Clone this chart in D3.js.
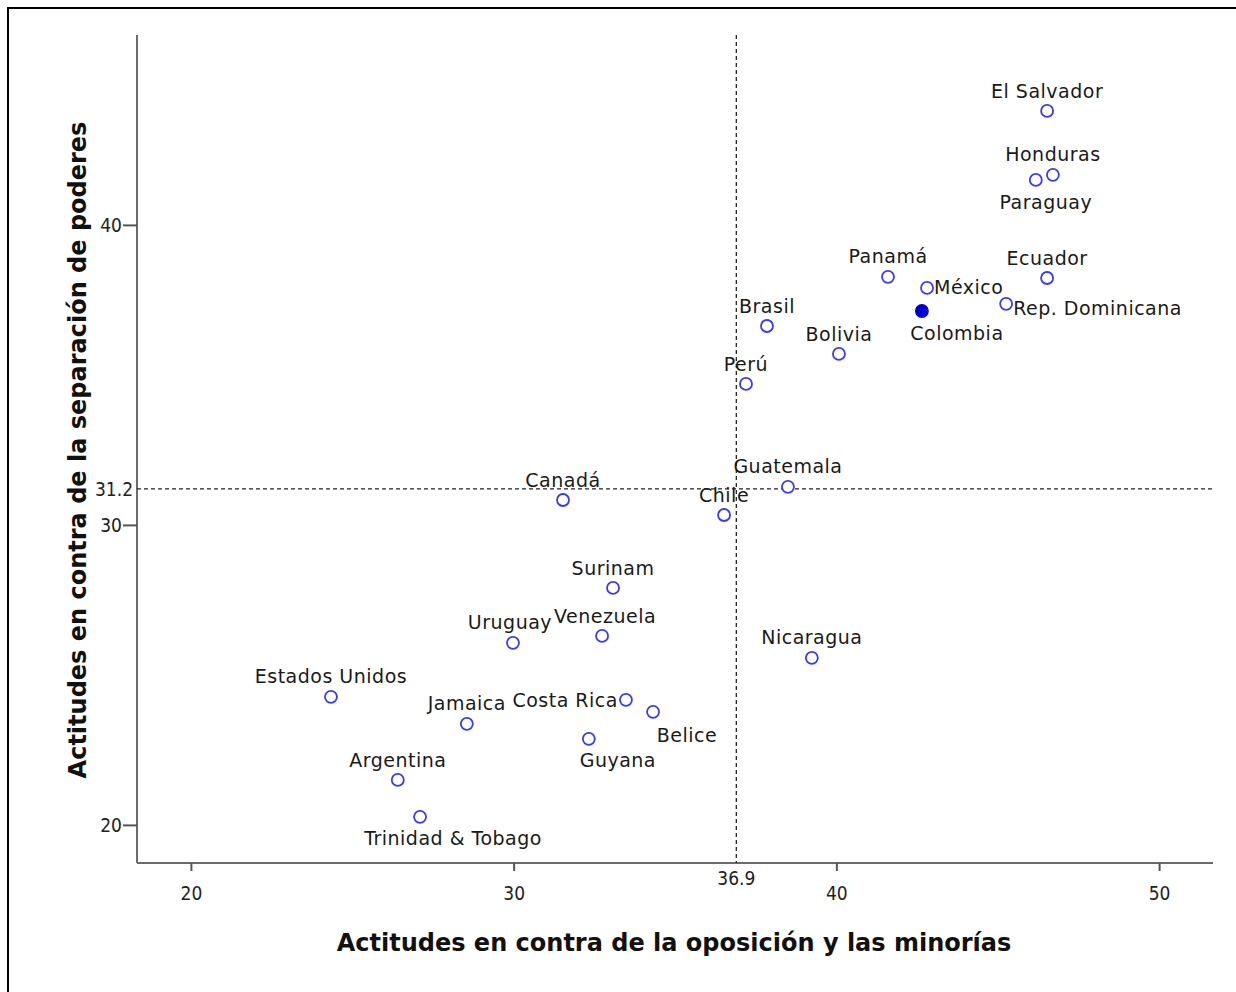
<!DOCTYPE html>
<html>
<head>
<meta charset="utf-8">
<script src="https://cdn.jsdelivr.net/npm/d3@7"></script>
<style>
  html, body { margin: 0; padding: 0; background: #fff; }
  svg { display: block; }
</style>
</head>
<body>
<svg id="chart" width="1236" height="992"></svg>
<script>
// ---- Data ----
const countries = ["El Salvador", "Honduras", "Paraguay", "Panamá", "Ecuador", "México", "Colombia",
  "Rep. Dominicana", "Brasil", "Bolivia", "Perú", "Guatemala", "Chile", "Canadá", "Surinam",
  "Venezuela", "Uruguay", "Nicaragua", "Estados Unidos", "Costa Rica", "Belice", "Jamaica",
  "Guyana", "Argentina", "Trinidad & Tobago"];
const oposicionMinorias = [46.53, 46.71, 46.18, 41.6, 46.53, 42.81, 42.65,
  45.26, 37.85, 40.08, 37.2, 38.5, 36.52, 31.53, 33.08,
  32.74, 29.98, 39.24, 24.34, 33.48, 34.32, 28.55,
  32.33, 26.41, 27.1];
const separacionPoderes = [43.8, 41.67, 41.5, 38.27, 38.23, 37.9, 37.13,
  37.37, 36.63, 35.7, 34.7, 31.27, 30.33, 30.83, 27.9,
  26.3, 26.07, 25.57, 24.27, 24.17, 23.77, 23.37,
  22.87, 21.5, 20.27];
const highlighted = ["Colombia"];
const xTicks = [20, 30, 40, 50];
const yTicks = [20, 30, 40];
const xMean = 36.9;
const yMean = 31.2;
const xTitle = "Actitudes en contra de la oposición y las minorías";
const yTitle = "Actitudes en contra de la separación de poderes";

// ---- Label layout (presentation only) ----
const labelLayout = {
  "Paraguay": {side: "below", dx: 10},
  "Colombia": {side: "below", dx: 35},
  "México": {side: "right", dx: 0, dy: -1},
  "Rep. Dominicana": {side: "right", dx: 0, dy: 5},
  "Costa Rica": {side: "left", dx: 0, dy: 1},
  "Belice": {side: "below", dx: 34, dy: 2},
  "Guyana": {side: "below", dx: 29},
  "Trinidad & Tobago": {side: "below", dx: 33},
  "Venezuela": {side: "above", dx: 3},
  "Uruguay": {side: "above", dx: -3}
};

// ---- Layout ----
const svg = d3.select("#chart");
const pLeft = 137, pRight = 1213, pTop = 35, pBottom = 863;

const x = d3.scaleLinear().domain([18.33, 51.67]).range([pLeft, pRight]);
const y = d3.scaleLinear().domain([18.73, 46.33]).range([pBottom, pTop]);

// frame
svg.append("rect").attr("x", 8).attr("y", 8).attr("width", 1240).attr("height", 1000)
  .attr("fill", "none").attr("stroke", "#000").attr("stroke-width", 2);

const tickFont = "'DejaVu Sans Condensed', 'DejaVu Sans', sans-serif";
const labelFont = "'DejaVu Sans', sans-serif";
const tickSize = 19;

// axes
const xAxis = d3.axisBottom(x).tickValues(xTicks).tickSize(8).tickSizeOuter(0).tickFormat(d3.format("d"));
const yAxis = d3.axisLeft(y).tickValues(yTicks).tickSize(14).tickSizeOuter(0).tickFormat(d3.format("d"));

const gx = svg.append("g").attr("transform", `translate(0,${pBottom})`).call(xAxis);
const gy = svg.append("g").attr("transform", `translate(${pLeft},0)`).call(yAxis);

[gx, gy].forEach(g => {
  g.select(".domain").attr("stroke", "#6b6b6b").attr("stroke-width", 2);
  g.selectAll(".tick line").attr("stroke", "#555").attr("stroke-width", 2);
  g.selectAll(".tick text").attr("fill", "#222").attr("font-family", tickFont)
    .attr("font-size", tickSize).style("font-stretch", "condensed");
});
gx.select(".domain").attr("d", `M${pLeft},0H${pRight}`);
gy.select(".domain").attr("d", `M0,${pBottom}V${pTop}`);
gx.selectAll(".tick text").attr("y", 30).attr("dy", "0.35em");
gy.selectAll(".tick text").attr("x", -15).attr("dy", "0.35em");

// reference lines
svg.append("line").attr("x1", x(xMean)).attr("x2", x(xMean)).attr("y1", pTop).attr("y2", pBottom)
  .attr("stroke", "#222").attr("stroke-width", 1.3).attr("stroke-dasharray", "4,3");
svg.append("line").attr("x1", pLeft).attr("x2", pRight).attr("y1", y(yMean)).attr("y2", y(yMean))
  .attr("stroke", "#222").attr("stroke-width", 1.3).attr("stroke-dasharray", "4,3");

// reference line labels
svg.append("text").attr("x", x(xMean)).attr("y", pBottom + 15).attr("dy", "0.35em").attr("text-anchor", "middle")
  .attr("font-family", tickFont).style("font-stretch", "condensed").attr("font-size", tickSize).attr("fill", "#222")
  .text(d3.format(".1f")(xMean));
svg.append("text").attr("x", pLeft - 4).attr("y", y(yMean)).attr("dy", "0.35em").attr("text-anchor", "end")
  .attr("font-family", tickFont).style("font-stretch", "condensed").attr("font-size", tickSize).attr("fill", "#222")
  .text(d3.format(".1f")(yMean));

// axis titles
svg.append("text").attr("x", 674).attr("y", 951).attr("text-anchor", "middle")
  .attr("font-family", labelFont).attr("font-weight", "bold").attr("font-size", 24).attr("fill", "#111")
  .text(xTitle);
svg.append("text").attr("transform", "translate(86,450) rotate(-90)").attr("text-anchor", "middle")
  .attr("font-family", labelFont).attr("font-weight", "bold").attr("font-size", 24).attr("fill", "#111")
  .text(yTitle);

// points
const data = countries.map((c, i) => ({name: c, x: oposicionMinorias[i], y: separacionPoderes[i]}));

svg.append("g").selectAll("circle").data(data).join("circle")
  .attr("cx", d => x(d.x)).attr("cy", d => y(d.y)).attr("r", 6)
  .attr("fill", d => highlighted.includes(d.name) ? "#0000d0" : "#fff")
  .attr("stroke", d => highlighted.includes(d.name) ? "#0000d0" : "#3b3bf0")
  .attr("stroke-width", 1.8);

// labels
svg.append("g").selectAll("text").data(data).join("text")
  .attr("font-family", labelFont).attr("font-size", 19).attr("fill", "#1a1a1a")
  .style("letter-spacing", "0.5px")
  .each(function(d) {
    const L = labelLayout[d.name] || {side: "above", dx: 0};
    const px = x(d.x), py = y(d.y);
    const t = d3.select(this);
    const dx = L.dx || 0, dy = L.dy || 0;
    if (L.side === "above") {
      t.attr("x", px + dx).attr("y", py - 20 + dy).attr("text-anchor", "middle").attr("dy", "0.35em");
    } else if (L.side === "below") {
      t.attr("x", px + dx).attr("y", py + 22 + dy).attr("text-anchor", "middle").attr("dy", "0.35em");
    } else if (L.side === "right") {
      t.attr("x", px + 7 + dx).attr("y", py + dy).attr("text-anchor", "start").attr("dy", "0.35em");
    } else {
      t.attr("x", px - 8 + dx).attr("y", py + dy).attr("text-anchor", "end").attr("dy", "0.35em");
    }
    t.text(d.name);
  });
</script>
</body>
</html>
